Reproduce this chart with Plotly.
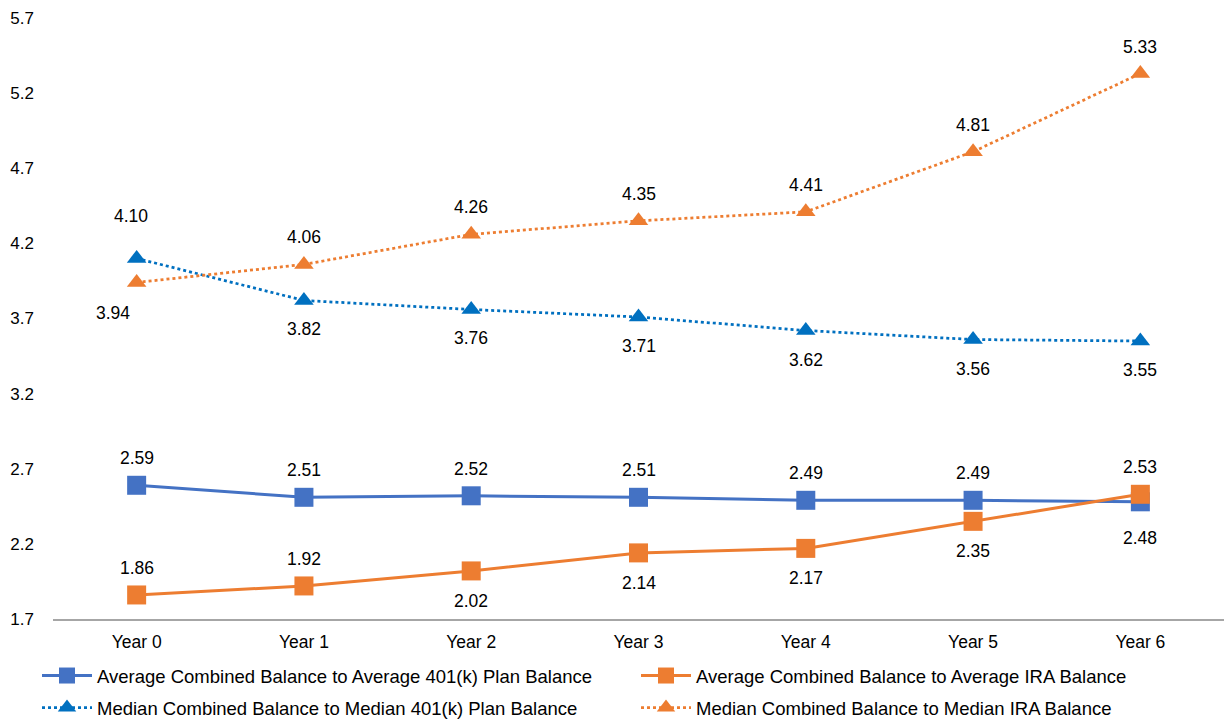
import plotly.graph_objects as go

years = ["Year 0", "Year 1", "Year 2", "Year 3", "Year 4", "Year 5", "Year 6"]

avg_401k = [2.59, 2.51, 2.52, 2.51, 2.49, 2.49, 2.48]
avg_ira = [1.86, 1.92, 2.02, 2.14, 2.17, 2.35, 2.53]
med_401k = [4.10, 3.82, 3.76, 3.71, 3.62, 3.56, 3.55]
med_ira = [3.94, 4.06, 4.26, 4.35, 4.41, 4.81, 5.33]

y_ticks = [1.7, 2.2, 2.7, 3.2, 3.7, 4.2, 4.7, 5.2, 5.7]

# label placement per point: (xshift, yshift) in pixels
pos_avg_401k = [(0, 27), (0, 27), (0, 27), (0, 27), (0, 27), (0, 27), (0, -36)]
pos_avg_ira = [(0, 27), (0, 27), (0, -30), (0, -30), (0, -30), (0, -30), (0, 27)]
pos_med_401k = [(-6, 42), (0, -29), (0, -29), (0, -29), (0, -29), (0, -29), (0, -29)]
pos_med_ira = [(-24, -31), (0, 27), (0, 27), (0, 27), (0, 27), (0, 27), (0, 27)]

FONT = "Liberation Sans, Arial, sans-serif"
FS = 17.5
LEG_FS = 18.5
BLUE = "#4472C4"
ORANGE = "#ED7D31"
MED_BLUE = "#0070C0"

fig = go.Figure()
fig.add_trace(go.Scatter(
    x=years, y=avg_401k, mode="lines+markers", legend="legend",
    name="Average Combined Balance to Average 401(k) Plan Balance",
    line=dict(color=BLUE, width=3),
    marker=dict(symbol="square", size=19, color=BLUE),
))
fig.add_trace(go.Scatter(
    x=years, y=avg_ira, mode="lines+markers", legend="legend2",
    name="Average Combined Balance to Average IRA Balance",
    line=dict(color=ORANGE, width=3),
    marker=dict(symbol="square", size=19, color=ORANGE),
))
fig.add_trace(go.Scatter(
    x=years, y=med_401k, mode="lines+markers", legend="legend3",
    name="Median Combined Balance to Median 401(k) Plan Balance",
    line=dict(color=MED_BLUE, width=2.75, dash="dot"),
    marker=dict(symbol="triangle-up", size=17, color=MED_BLUE),
))
fig.add_trace(go.Scatter(
    x=years, y=med_ira, mode="lines+markers", legend="legend4",
    name="Median Combined Balance to Median IRA Balance",
    line=dict(color=ORANGE, width=2.75, dash="dot"),
    marker=dict(symbol="triangle-up", size=17, color=ORANGE),
))

annotations = []
for vals, pos in [(avg_401k, pos_avg_401k), (avg_ira, pos_avg_ira),
                  (med_401k, pos_med_401k), (med_ira, pos_med_ira)]:
    for x, v, (dx, dy) in zip(years, vals, pos):
        annotations.append(dict(
            x=x, y=v, text=f"{v:.2f}", showarrow=False,
            xshift=dx, yshift=dy,
            font=dict(family=FONT, size=FS, color="#000000"),
        ))

legend_common = dict(
    orientation="h", xref="container", yref="container",
    xanchor="left", yanchor="middle", itemwidth=50,
    font=dict(family=FONT, size=LEG_FS, color="#000000"),
    bgcolor="rgba(0,0,0,0)",
)
row1, row2 = 1 - 676 / 719, 1 - 708 / 719
col1, col2 = 37 / 1224, 636 / 1224

fig.update_layout(
    width=1224, height=719,
    margin=dict(l=53, r=0, t=18, b=100),
    paper_bgcolor="white", plot_bgcolor="white",
    font=dict(family=FONT, size=FS, color="#000000"),
    showlegend=True,
    legend=dict(legend_common, x=col1, y=row1),
    legend2=dict(legend_common, x=col2, y=row1),
    legend3=dict(legend_common, x=col1, y=row2),
    legend4=dict(legend_common, x=col2, y=row2),
    annotations=annotations,
)
fig.update_xaxes(
    type="category", range=[-0.5, len(years) - 0.5],
    showgrid=False, showline=True, linecolor="#A6A6A6",
    linewidth=1.5, ticks="", ticklabelstandoff=6,
    tickfont=dict(family=FONT, size=FS, color="#000000"),
)
fig.update_yaxes(
    range=[1.7, 5.7], tickvals=y_ticks, ticktext=[f"{t:.1f}" for t in y_ticks],
    showgrid=False, zeroline=False, showline=False, ticks="",
    ticklabelstandoff=18,
    tickfont=dict(family=FONT, size=17, color="#000000"),
)

fig.write_html("out.html")
